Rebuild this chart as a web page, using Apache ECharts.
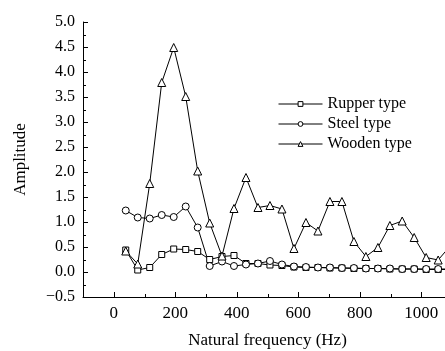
<!DOCTYPE html>
<html>
<head>
<meta charset="utf-8">
<script src="https://cdn.jsdelivr.net/npm/echarts@6/dist/echarts.min.js"></script>
<style>
  html, body { margin: 0; padding: 0; background: #fff; }
  #chart { width: 445px; height: 351px; }
</style>
</head>
<body>
<div id="chart"></div>
<script>
// 频率 (Hz)
var freq = [39, 78, 117, 156, 195, 234, 273, 312, 352, 391, 430, 469, 508, 547,
            586, 625, 664, 703, 742, 781, 820, 859, 898, 938, 977, 1016, 1055, 1094];
var rupper = [0.44, 0.04, 0.09, 0.35, 0.46, 0.45, 0.41, 0.25, 0.31, 0.33, 0.17, 0.17, 0.14, 0.13,
              0.10, 0.09, 0.09, 0.08, 0.08, 0.07, 0.07, 0.07, 0.06, 0.06, 0.06, 0.05, 0.05, 0.05];
var steel = [1.23, 1.09, 1.07, 1.14, 1.10, 1.31, 0.89, 0.12, 0.21, 0.12, 0.15, 0.17, 0.22, 0.15,
             0.11, 0.10, 0.09, 0.09, 0.08, 0.08, 0.07, 0.07, 0.07, 0.06, 0.06, 0.06, 0.06, 0.06];
var wooden = [0.42, 0.16, 1.77, 3.79, 4.49, 3.51, 2.02, 0.98, 0.32, 1.27, 1.89, 1.29, 1.33, 1.26,
              0.47, 0.99, 0.82, 1.41, 1.41, 0.61, 0.31, 0.49, 0.93, 1.02, 0.69, 0.29, 0.24, 0.52];
// 刻度
var yMajor = [-0.5, 0, 0.5, 1, 1.5, 2, 2.5, 3, 3.5, 4, 4.5, 5];
var yMinor = [-0.25, 0.25, 0.75, 1.25, 1.75, 2.25, 2.75, 3.25, 3.75, 4.25, 4.75];
var xMajor = [0, 200, 400, 600, 800, 1000];
var xMinor = [100, 300, 500, 700, 900];
var X_MIN = -100, X_MAX = 1100, Y_MIN = -0.5, Y_MAX = 5.0;

var font = 'Liberation Serif';

function pairs(ys) {
  return freq.map(function (f, i) { return [f, ys[i]]; });
}

function mkSeries(name, symbol, size, ys) {
  return {
    name: name,
    type: 'line',
    data: pairs(ys),
    symbol: symbol,
    symbolSize: size,
    lineStyle: { color: '#000', width: 1 },
    itemStyle: { color: '#fff', borderColor: '#000', borderWidth: 1 },
    emphasis: { disabled: true },
    animation: false
  };
}

// 朝内的刻度线：[值, 类型]  0=y主 1=y次 2=x主 3=x次
var tickData = []
  .concat(yMajor.map(function (v) { return [v, 0]; }))
  .concat(yMinor.map(function (v) { return [v, 1]; }))
  .concat(xMajor.map(function (v) { return [v, 2]; }))
  .concat(xMinor.map(function (v) { return [v, 3]; }));

function renderTick(params, api) {
  var v = api.value(0), kind = api.value(1);
  var len = (kind === 0 || kind === 2) ? 5 : 3;
  var p, shape;
  if (kind < 2) {
    p = api.coord([X_MIN, v]);
    var y = Math.round(p[1]) + 0.5;
    shape = { x1: p[0], y1: y, x2: p[0] + len, y2: y };
  } else {
    p = api.coord([v, Y_MIN]);
    var x = Math.round(p[0]) + 0.5;
    shape = { x1: x, y1: p[1], x2: x, y2: p[1] - len };
  }
  return { type: 'line', shape: shape, style: { stroke: '#000', lineWidth: 1 } };
}

var myChart = echarts.init(document.getElementById('chart'));
var option = {
  backgroundColor: '#fff',
  animation: false,
  grid: { left: 83, top: 22, bottom: 54, right: -7, outerBoundsMode: 'none', containLabel: false },
  legend: {
    orient: 'vertical',
    left: 273,
    top: 91,
    itemWidth: 44,
    itemHeight: 6,
    itemGap: 4,
    itemStyle: { color: '#fff', borderColor: '#000', borderWidth: 1 },
    lineStyle: { color: '#000', width: 1 },
    textStyle: { fontFamily: font, fontSize: 16, color: '#000' },
    data: ['Rupper type', 'Steel type', 'Wooden type']
  },
  xAxis: {
    type: 'value',
    min: X_MIN,
    max: X_MAX,
    splitNumber: 5,
    name: 'Natural frequency (Hz)',
    nameLocation: 'middle',
    nameGap: 35,
    nameTextStyle: { fontFamily: font, fontSize: 17, color: '#000' },
    axisLine: { onZero: false, lineStyle: { color: '#000', width: 1 } },
    axisTick: { show: false },
    axisLabel: {
      showMinLabel: false, showMaxLabel: false,
      margin: 8, fontFamily: font, fontSize: 17, color: '#000',
      formatter: function (v) { return String(v); }
    },
    splitLine: { show: false }
  },
  yAxis: {
    type: 'value',
    min: Y_MIN,
    max: Y_MAX,
    interval: 0.5,
    name: 'Amplitude',
    nameLocation: 'middle',
    nameGap: 54,
    nameTextStyle: { fontFamily: font, fontSize: 17, color: '#000' },
    axisLine: { show: true, onZero: false, lineStyle: { color: '#000', width: 1 } },
    axisTick: { show: false },
    axisLabel: {
      margin: 8, fontFamily: font, fontSize: 16, color: '#000',
      formatter: function (v) { return v.toFixed(1).replace('-', '\u2212'); }
    },
    splitLine: { show: false }
  },
  series: [
    mkSeries('Rupper type', 'rect', 6, rupper),
    mkSeries('Steel type', 'circle', 7, steel),
    mkSeries('Wooden type', 'triangle', 8, wooden),
    {
      type: 'custom',
      name: 'ticks',
      data: tickData,
      renderItem: renderTick,
      clip: false,
      silent: true,
      animation: false,
      z: 5
    }
  ]
};
option && myChart.setOption(option);
</script>
</body>
</html>
